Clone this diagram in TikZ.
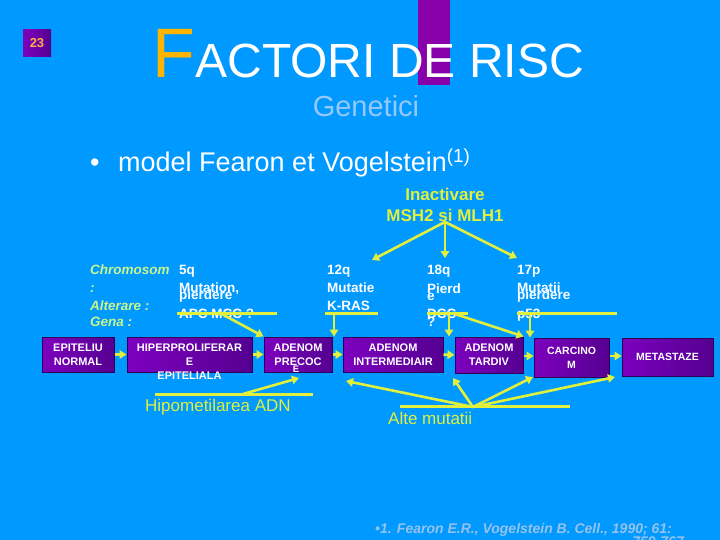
\documentclass[tikz,border=0pt]{standalone}
\usepackage{fontspec}
\setmainfont{Liberation Sans}
\usepackage{xcolor}
\usetikzlibrary{arrows.meta, positioning, calc}
\definecolor{slidebg}{RGB}{0,153,255}
\definecolor{titlebar}{RGB}{136,0,170}
\definecolor{titleorange}{RGB}{255,180,0}
\definecolor{subblue}{RGB}{150,200,250}
\definecolor{footblue}{RGB}{150,195,235}
\definecolor{lineyellow}{RGB}{225,240,60}
\definecolor{chromgreen}{RGB}{200,245,140}
\definecolor{stageleft}{RGB}{125,0,190}
\definecolor{stageright}{RGB}{85,0,145}
\definecolor{stageedge}{RGB}{45,0,85}
\definecolor{numorange}{RGB}{255,175,70}
\tikzstyle{stage} = [rectangle, minimum height=35pt, inner sep=0pt, align=center, draw=stageedge, line width=1pt, left color=stageleft, right color=stageright, text=white, font=\fontsize{11}{14}\selectfont\bfseries]
\tikzstyle{stagetext} = [inner sep=0pt, align=center, text=white, font=\fontsize{11}{14}\selectfont\bfseries]
\tikzstyle{lbl} = [anchor=base west, inner sep=0pt, text=white, font=\fontsize{13.5}{14}\selectfont\bfseries]
\tikzstyle{chrom} = [lbl, text=chromgreen, font=\fontsize{13.5}{14}\selectfont\bfseries\itshape]
\tikzstyle{note} = [anchor=base west, inner sep=0pt, text=lineyellow, font=\fontsize{17}{20}\selectfont]
\tikzstyle{bar} = [line width=3pt, draw=lineyellow]
\tikzstyle{link} = [line width=2.6pt, -{Triangle[length=7pt,width=8.5pt]}, draw=lineyellow]

\begin{document}
\begin{tikzpicture}[x=1pt, y=-1pt]
      \useasboundingbox (0,0) rectangle (720,540);
      \fill[slidebg] (0,0) rectangle (720,540);

      % Slide number
      \node[rectangle, minimum width=28pt, minimum height=27pt, inner sep=0pt, left color=stageleft, right color=stageright, text=numorange, font=\fontsize{13}{13}\selectfont\bfseries] (slidenum) at (37,43) {23};

      % Title
      \fill[titlebar] (418,0) rectangle (450,85);
      \node[anchor=base west, inner sep=0pt, text=titleorange, font=\fontsize{70}{70}\selectfont] (titleF) at (152,78) {F};
      \node[anchor=base west, inner sep=0pt, text=white, font=\fontsize{48}{48}\selectfont] (titlerest) at (titleF.base east) {ACTORI DE RISC};
      \node[anchor=base, inner sep=0pt, text=subblue, font=\fontsize{29}{29}\selectfont] (subtitle) at (366,117) {Genetici};

      % Bullet
      \node[anchor=base west, inner sep=0pt, text=white, font=\fontsize{27}{27}\selectfont] (bullet) at (90,172) {•};
      \node[anchor=base west, inner sep=0pt, text=white, font=\fontsize{27}{27}\selectfont] (model) at (118,172) {model Fearon et Vogelstein\textsuperscript{(1)}};

      % Inactivare
      \node[inner sep=0pt, align=center, text=lineyellow, font=\fontsize{17}{21}\selectfont\bfseries] (inact) at (445,205) {Inactivare\\MSH2 si MLH1};
      \coordinate (inacttipA) at (372,260);
      \coordinate (inacttipB) at (445,258);
      \coordinate (inacttipC) at (517,258);
      \draw[link] (inact.south) -- (inacttipA);
      \draw[link] (inact.south) -- (inacttipB);
      \draw[link] (inact.south) -- (inacttipC);

      % Row headers
      \node[chrom] (chromhead) at (90,274) {Chromosom};
      \node[chrom] (chromcolon) at (90,292) {:};
      \node[chrom] (alterhead) at (90,310) {Alterare :};
      \node[chrom] (genahead) at (90,326) {Gena :};

      % 5q
      \node[lbl] (q5) at (179,274) {5q};
      \node[lbl] (q5mut) at (179,292) {Mutation,};
      \node[lbl] (q5pier) at (179,299) {pierdere};
      \node[lbl] (q5gene) at (179,318) {APC MCC ?};

      % 12q
      \node[lbl] (q12) at (327,274) {12q};
      \node[lbl] (q12mut) at (327,292) {Mutatie};
      \node[lbl] (q12gene) at (327,310) {K-RAS};

      % 18q
      \node[lbl] (q18) at (427,274) {18q};
      \node[lbl] (q18pier) at (427,293) {Pierd};
      \node[lbl] (q18pierb) at (427,300) {e};
      \node[lbl] (q18gene) at (427,318) {DCC};
      \node[lbl] (q18mark) at (427,326) {?};

      % 17p
      \node[lbl] (p17) at (517,274) {17p};
      \node[lbl] (p17mut) at (517,292) {Mutatii};
      \node[lbl] (p17pier) at (517,299) {pierdere};
      \node[lbl] (p17gene) at (517,318) {p53};

      % Stages
      \node[stage, minimum width=72pt] (normal) at (78,354.5) {EPITELIU\\NORMAL};
      \node[stage, minimum width=125pt] (hiper) at (189.5,354.5) {};
      \node[stagetext, anchor=north] (hipertext) at (189.5,344) {HIPERPROLIFERAR\\E\\EPITELIALA};
      \node[stage, minimum width=68pt] (precoce) at (298,354.5) {ADENOM\\PRECOC};
      \node[stagetext, font=\fontsize{9.5}{10}\selectfont\bfseries] (precocetail) at (296,369) {E};
      \node[stage, minimum width=100pt] (interm) at (393,354.5) {ADENOM\\INTERMEDIAIR};
      \node[stage, minimum width=68pt, minimum height=36pt] (tardiv) at (489,355) {ADENOM\\TARDIV};
      \node[stage, minimum width=75pt, minimum height=39pt, font=\fontsize{10.5}{14}\selectfont\bfseries] (carcinom) at (571.5,357.5) {CARCINO\\M};
      \node[stage, minimum width=91pt, minimum height=38pt, font=\fontsize{10.5}{14}\selectfont\bfseries] (metast) at (667.5,357) {METASTAZE};

      \draw[link] (normal.east) -- (hiper.west);
      \draw[link] (hiper.east) -- (precoce.west);
      \draw[link] (precoce.east) -- (interm.west);
      \draw[link] (interm.east) -- (tardiv.west);
      \draw[link] (tardiv.east |- 0,356) -- (carcinom.west |- 0,356);
      \draw[link] (carcinom.east |- 0,356) -- (metast.west |- 0,356);

      % Gene bars
      \coordinate (apcL) at (177,313);
      \coordinate (apcR) at (277,313);
      \coordinate (apcS) at (220,313);
      \draw[bar] (apcL) -- (apcR);
      \draw[link] (apcS) -- (precoce.north west);

      \coordinate (krasL) at (325,313);
      \coordinate (krasR) at (378,313);
      \coordinate (krasS) at (334,313);
      \draw[bar] (krasL) -- (krasR);
      \draw[link] (krasS) -- (krasS |- interm.north);

      \coordinate (dccL) at (427,313);
      \coordinate (dccR) at (468,313);
      \coordinate (dccS) at (449,313);
      \coordinate (dccT) at (452,313);
      \draw[bar] (dccL) -- (dccR);
      \draw[link] (dccS) -- (dccS |- tardiv.north);
      \draw[link] (dccT) -- (tardiv.north east);

      \coordinate (p53L) at (517,313);
      \coordinate (p53R) at (617,313);
      \coordinate (p53S) at (530,313);
      \draw[bar] (p53L) -- (p53R);
      \draw[link] (p53S) -- (p53S |- carcinom.north);

      % Hipometilarea ADN
      \coordinate (hypoL) at (155,394);
      \coordinate (hypoR) at (313,394);
      \coordinate (hypoS) at (243,394);
      \coordinate (hypoT) at (299,378);
      \draw[bar] (hypoL) -- (hypoR);
      \draw[link] (hypoS) -- (hypoT);
      \node[note] (hypo) at (145,411) {Hipometilarea ADN};

      % Alte mutatii
      \coordinate (alteL) at (400,406);
      \coordinate (alteR) at (570,406);
      \coordinate (altehub) at (473,407);
      \coordinate (altetipA) at (346,381);
      \coordinate (altetipB) at (453,378);
      \coordinate (altetipC) at (533,377);
      \coordinate (altetipD) at (615,377);
      \draw[bar] (alteL) -- (alteR);
      \foreach \t in {altetipA, altetipB, altetipC, altetipD}
        \draw[link] (altehub) -- (\t);
      \node[note] (alte) at (388,424) {Alte mutatii};

      % Reference
      \node[anchor=base west, inner sep=0pt, text=footblue, font=\fontsize{14}{14}\selectfont\bfseries\itshape] (ref) at (375,533) {•1. Fearon E.R., Vogelstein B. Cell., 1990; 61:};
      \node[anchor=base east, inner sep=0pt, text=footblue, font=\fontsize{14}{14}\selectfont\bfseries\itshape] (refpages) at (684,546) {759-767};
    \end{tikzpicture}
\end{document}
